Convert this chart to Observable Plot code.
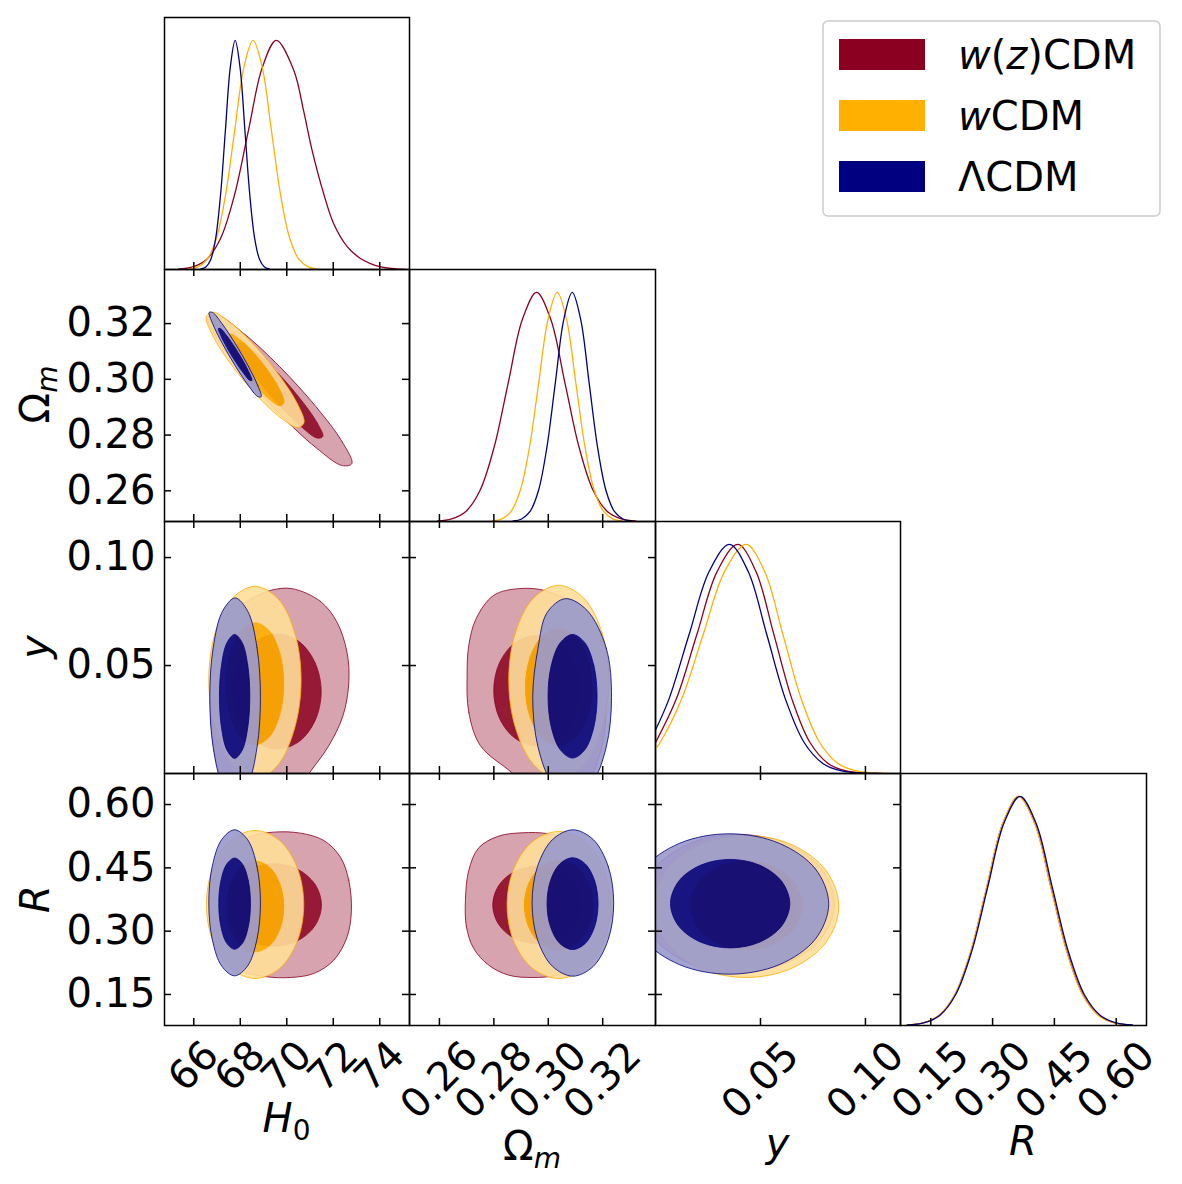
<!DOCTYPE html>
<html>
<head>
<meta charset="utf-8">
<script src="https://cdn.jsdelivr.net/npm/d3@7"></script>
<script src="https://cdn.jsdelivr.net/npm/@observablehq/plot@0.6"></script>
<style>
  html, body { margin: 0; background: #fff; }
  #fig { position: relative; width: 1182px; height: 1184px; font-family: "DejaVu Sans", sans-serif; }
  #fig svg { position: absolute; max-width: none; }
</style>
</head>
<body>
<div id="fig"></div>
<script>
// ---------- models ----------
const MODELS = ["wz", "w", "L"];
const MODEL_NAMES = { wz: ["w", "(", "z", ")CDM"], w: ["w", "CDM"], L: ["ΛCDM"] };
const COLORS = { wz: "#8b0020", w: "#ffb000", L: "#000080" };

// ---------- axes: limits, ticks and tick labels ----------
const H0_DOMAIN = [64.74, 75.28];
const OM_DOMAIN = [0.249, 0.3394];
const Y_DOMAIN = [0, 0.1167];
const R_DOMAIN = [0.0765, 0.6735];
const PDF_DOMAIN = [0, 1.1];

const H0_TICKS = [66, 68, 70, 72, 74];
const H0_LABELS = ["66", "68", "70", "72", "74"];
const OM_TICKS = [0.26, 0.28, 0.30, 0.32];
const OM_LABELS = ["0.26", "0.28", "0.30", "0.32"];
const Y_TICKS = [0.05, 0.10];
const Y_LABELS = ["0.05", "0.10"];
const R_TICKS = [0.15, 0.30, 0.45, 0.60];
const R_LABELS = ["0.15", "0.30", "0.45", "0.60"];

// ---------- 1D marginals [value, normalised density] ----------
const h0_wz = [[65.35,0.0022],[65.95,0.0111],[66.55,0.0439],[67.15,0.1353],[67.75,0.3247],[68.35,0.6065],[68.95,0.8825],[69.55,1],[70.3,0.87],[70.73,0.69],[71.09,0.52],[71.59,0.33],[72.02,0.2],[72.6,0.1],[73.17,0.048],[73.6,0.026],[74.0,0.013],[74.6,0.004],[75.1,0.0005]];
const h0_w = [[65.785,0.0022],[66.18,0.0111],[66.575,0.0439],[66.97,0.1353],[67.365,0.3247],[67.76,0.6065],[68.155,0.8825],[68.55,1],[68.945,0.8825],[69.34,0.6065],[69.735,0.3247],[70.13,0.1353],[70.525,0.0439],[70.92,0.0111],[71.315,0.0022]];
const h0_L = [[66.31,0.0022],[66.52,0.0111],[66.73,0.0439],[66.94,0.1353],[67.15,0.3247],[67.36,0.6065],[67.57,0.8825],[67.78,1],[67.99,0.8825],[68.2,0.6065],[68.41,0.3247],[68.62,0.1353],[68.83,0.0439],[69.04,0.0111],[69.25,0.0022]];

const om_wz = [[0.2593,0.0022],[0.2645,0.0111],[0.2697,0.0439],[0.2749,0.1353],[0.2801,0.3247],[0.2853,0.6065],[0.2905,0.8825],[0.2957,1],[0.3009,0.8825],[0.3061,0.6065],[0.3113,0.3247],[0.3165,0.1353],[0.3217,0.0439],[0.3269,0.0111],[0.3321,0.0022]];
const om_w = [[0.2795,0.0022],[0.2829,0.0111],[0.2863,0.0439],[0.2897,0.1353],[0.2931,0.3247],[0.2965,0.6065],[0.2999,0.8825],[0.3033,1],[0.3067,0.8825],[0.3101,0.6065],[0.3135,0.3247],[0.3169,0.1353],[0.3203,0.0439],[0.3237,0.0111],[0.3271,0.0022]];
const om_L = [[0.2871,0.0022],[0.2902,0.0111],[0.2933,0.0439],[0.2964,0.1353],[0.2995,0.3247],[0.3026,0.6065],[0.3057,0.8825],[0.3088,1],[0.3119,0.8825],[0.3150,0.6065],[0.3181,0.3247],[0.3212,0.1353],[0.3243,0.0439],[0.3274,0.0111],[0.3305,0.0022]];

const y_wz = [[0,0.135],[0.0099,0.3247],[0.0197,0.6065],[0.0294,0.8825],[0.0392,1],[0.0478,0.8825],[0.0564,0.6065],[0.065,0.3247],[0.0736,0.1353],[0.0822,0.0439],[0.0908,0.0111],[0.0994,0.0022],[0.108,0.0003]];
const y_w = [[0,0.108],[0.0022,0.1353],[0.01245,0.3247],[0.0227,0.6065],[0.03295,0.8825],[0.0432,1],[0.05195,0.8825],[0.0607,0.6065],[0.06945,0.3247],[0.0782,0.1353],[0.08695,0.0439],[0.0957,0.0111],[0.10445,0.0022],[0.112,0.0003]];
const y_L = [[0,0.19],[0.0064,0.3247],[0.016,0.6065],[0.0256,0.8825],[0.0352,1],[0.0441,0.8825],[0.053,0.6065],[0.0619,0.3247],[0.0708,0.1353],[0.0797,0.0439],[0.0886,0.0111],[0.0975,0.0022],[0.106,0.0003]];

const r_wz = [[0.0928,0.0022],[0.1315,0.0111],[0.1703,0.0439],[0.209,0.1353],[0.2478,0.3247],[0.2865,0.6065],[0.3253,0.8825],[0.364,1],[0.4028,0.8825],[0.4415,0.6065],[0.4803,0.3247],[0.519,0.1353],[0.5578,0.0439],[0.5965,0.0111],[0.6353,0.0022]];
const r_w = [[0.092,0.0022],[0.1307,0.0111],[0.1695,0.0439],[0.2082,0.1353],[0.247,0.3247],[0.2857,0.6065],[0.3245,0.8825],[0.3632,1],[0.402,0.8825],[0.4407,0.6065],[0.4795,0.3247],[0.5182,0.1353],[0.557,0.0439],[0.5957,0.0111],[0.6345,0.0022]];
const r_L = [[0.0935,0.0022],[0.1325,0.0111],[0.1715,0.0439],[0.2105,0.1353],[0.2495,0.3247],[0.2885,0.6065],[0.3275,0.8825],[0.3665,1],[0.4055,0.8825],[0.4445,0.6065],[0.4835,0.3247],[0.5225,0.1353],[0.5615,0.0439],[0.6005,0.0111],[0.6395,0.0022]];

// ---------- 2D contours (95% and 68% outlines) ----------
// H0 – Omega_m
const h0Om_wz95 = [[72.8,0.2698],[72.385,0.27756],[71.25,0.29026],[69.7,0.3045],[68.15,0.31646],[67.015,0.32294],[66.6,0.3222],[67.015,0.31444],[68.15,0.30174],[69.7,0.2875],[71.25,0.27554],[72.385,0.26906]];
const h0Om_wz68 = [[71.55,0.2795],[71.302,0.28446],[70.625,0.29251],[69.7,0.3015],[68.775,0.30901],[68.098,0.31304],[67.85,0.3125],[68.098,0.30754],[68.775,0.29949],[69.7,0.2905],[70.625,0.28299],[71.302,0.27896]];
const h0Om_w95 = [[70.74,0.2844],[70.459,0.2912],[69.69,0.30126],[68.64,0.3119],[67.59,0.32026],[66.821,0.3241],[66.54,0.3224],[66.821,0.3156],[67.59,0.30554],[68.64,0.2949],[69.69,0.28654],[70.459,0.2827]];
const h0Om_w68 = [[69.88,0.2917],[69.714,0.29602],[69.26,0.30231],[68.64,0.3089],[68.02,0.31401],[67.566,0.31628],[67.40,0.3151],[67.566,0.31078],[68.02,0.30449],[68.64,0.2979],[69.26,0.29279],[69.714,0.29052]];
const h0Om_L95 = [[68.90,0.2938],[68.75,0.29782],[68.34,0.30481],[67.78,0.3129],[67.22,0.31991],[66.81,0.32398],[66.66,0.3240],[66.81,0.31998],[67.22,0.31299],[67.78,0.3049],[68.34,0.29789],[68.75,0.29382]];
const h0Om_L68 = [[68.50,0.2996],[68.40,0.30205],[68.14,0.30633],[67.78,0.3113],[67.42,0.31563],[67.16,0.31815],[67.06,0.3182],[67.16,0.31575],[67.42,0.31147],[67.78,0.3065],[68.14,0.30217],[68.40,0.29965]];

// H0 – y
const h0Y_wz95 = [[70.23,0.0856],[71.45,0.0797],[72.16,0.0701],[72.59,0.0562],[72.67,0.0423],[72.42,0.0268],[71.81,0.0129],[71.09,0.0020],[70.30,-0.0088],[68.9,-0.016],[67.6,-0.012],[67.05,0.002],[66.78,0.0191],[66.72,0.0423],[66.93,0.0608],[67.58,0.0732],[68.44,0.0807],[69.30,0.0848]];
const h0Y_wz68 = [[71.48,0.0379],[71.22,0.0512],[70.54,0.0610],[69.60,0.0646],[68.66,0.0610],[67.97,0.0512],[67.72,0.0379],[67.97,0.0246],[68.66,0.0149],[69.60,0.0113],[70.54,0.0149],[71.22,0.0246]];
const h0Y_w95 = [[70.616,0.0432],[70.351,0.0649],[69.624,0.0809],[68.631,0.0867],[67.637,0.0809],[66.912,0.0649],[66.645,0.0432],[66.912,0.0215],[67.637,0.0040],[68.631,-0.0030],[69.624,0.0040],[70.351,0.0215]];
const h0Y_w68 = [[69.871,0.0415],[69.705,0.0557],[69.252,0.0660],[68.631,0.0698],[68.010,0.0660],[67.558,0.0557],[67.391,0.0415],[67.558,0.0273],[68.010,0.0170],[68.631,0.0132],[69.252,0.0170],[69.705,0.0273]];
const h0Y_L95 = [[68.867,0.0352],[68.721,0.0582],[68.323,0.0751],[67.778,0.0813],[67.233,0.0751],[66.834,0.0582],[66.688,0.0352],[66.834,0.0121],[67.233,-0.0048],[67.778,-0.0110],[68.323,-0.0048],[68.721,0.0121]];
const h0Y_L68 = [[68.409,0.0357],[68.321,0.0501],[68.082,0.0606],[67.756,0.0644],[67.430,0.0606],[67.191,0.0501],[67.104,0.0357],[67.191,0.0213],[67.430,0.0108],[67.756,0.0070],[68.082,0.0108],[68.321,0.0213]];

// Omega_m – y
const omY_wz95 = [[0.27016,0.04537],[0.27078,0.02835],[0.27506,0.01288],[0.2865,0.00050],[0.2950,-0.00900],[0.30383,-0.01189],[0.31424,-0.00415],[0.31975,0.01288],[0.32134,0.03299],[0.32036,0.05156],[0.31608,0.06704],[0.30812,0.07911],[0.29894,0.08468],[0.28914,0.08561],[0.27996,0.08251],[0.27347,0.07168],[0.27078,0.05930]];
const omY_wz68 = [[0.31145,0.03841],[0.30934,0.05118],[0.30358,0.06052],[0.29570,0.06394],[0.28783,0.06052],[0.28206,0.05118],[0.27996,0.03841],[0.28206,0.02564],[0.28783,0.01630],[0.29570,0.01288],[0.30358,0.01630],[0.30934,0.02564]];
const omY_w95 = [[0.32220,0.04321],[0.31974,0.06518],[0.31302,0.08127],[0.30384,0.08716],[0.29465,0.08127],[0.28793,0.06518],[0.28547,0.04321],[0.28793,0.02123],[0.29465,0.00414],[0.30384,-0.00300],[0.31302,0.00414],[0.31974,0.02123]];
const omY_w68 = [[0.31608,0.03996],[0.31444,0.05350],[0.30996,0.06342],[0.30384,0.06704],[0.29771,0.06342],[0.29323,0.05350],[0.29159,0.03996],[0.29323,0.02642],[0.29771,0.01650],[0.30384,0.01288],[0.30996,0.01650],[0.31444,0.02642]];
const omY_L95 = [[0.32324,0.03516],[0.32130,0.05806],[0.31424,0.07555],[0.30628,0.08097],[0.29955,0.07447],[0.29623,0.05806],[0.29428,0.03516],[0.29623,0.01226],[0.30155,-0.00451],[0.30879,-0.01060],[0.31599,-0.00451],[0.32130,0.01226]];
const omY_L68 = [[0.31792,0.03578],[0.31672,0.05009],[0.31342,0.06057],[0.30892,0.06441],[0.30442,0.06057],[0.30112,0.05009],[0.29992,0.03578],[0.30112,0.02146],[0.30442,0.01099],[0.30892,0.00715],[0.31342,0.01099],[0.31672,0.02146]];

// H0 – R
const h0R_wz95 = [[72.781,0.34941],[72.667,0.42033],[72.308,0.47549],[71.591,0.51489],[70.588,0.53223],[69.441,0.53459],[68.437,0.52435],[67.505,0.49519],[66.932,0.44397],[66.688,0.36517],[66.789,0.29425],[67.290,0.23908],[68.151,0.20362],[69.154,0.19180],[70.158,0.19023],[71.161,0.19968],[72.022,0.23121],[72.595,0.28637]];
const h0R_wz68 = [[71.491,0.36202],[71.216,0.41087],[70.466,0.44665],[69.441,0.45973],[68.416,0.44665],[67.666,0.41087],[67.391,0.36202],[67.666,0.31316],[68.416,0.27738],[69.441,0.26430],[70.466,0.27738],[71.216,0.31316]];
const h0R_w95 = [[70.731,0.36320],[70.450,0.45043],[69.685,0.51505],[68.638,0.53853],[67.591,0.51505],[66.826,0.45043],[66.545,0.36320],[66.826,0.27597],[67.591,0.21135],[68.638,0.18787],[69.685,0.21135],[70.450,0.27597]];
const h0R_w68 = [[69.871,0.35847],[69.706,0.41225],[69.254,0.45162],[68.638,0.46604],[68.022,0.45162],[67.570,0.41225],[67.405,0.35847],[67.570,0.30469],[68.022,0.26533],[68.638,0.25091],[69.254,0.26533],[69.706,0.30469]];
const h0R_L95 = [[68.867,0.36714],[68.718,0.45362],[68.312,0.51694],[67.756,0.54011],[67.201,0.51694],[66.794,0.45362],[66.645,0.36714],[66.794,0.28065],[67.201,0.21734],[67.756,0.19417],[68.312,0.21734],[68.718,0.28065]];
const h0R_L68 = [[68.437,0.36517],[68.346,0.41915],[68.097,0.45867],[67.756,0.47313],[67.416,0.45867],[67.167,0.41915],[67.075,0.36517],[67.167,0.31119],[67.416,0.27167],[67.756,0.25721],[68.097,0.27167],[68.346,0.31119]];

// Omega_m – R
const omR_wz95 = [[0.26955,0.37305],[0.26992,0.31001],[0.27261,0.25879],[0.27812,0.21939],[0.28547,0.19574],[0.29404,0.19023],[0.30383,0.19574],[0.31241,0.21544],[0.31914,0.26272],[0.32220,0.33365],[0.32159,0.40457],[0.31730,0.46761],[0.30996,0.51095],[0.30016,0.53066],[0.29037,0.53302],[0.28179,0.52514],[0.27445,0.49756],[0.27078,0.44397]];
const omR_wz68 = [[0.31182,0.36202],[0.30966,0.40772],[0.30376,0.44121],[0.29570,0.45343],[0.28765,0.44121],[0.28175,0.40772],[0.27959,0.36202],[0.28175,0.31631],[0.28765,0.28282],[0.29570,0.27061],[0.30376,0.28282],[0.30966,0.31631]];
const omR_w95 = [[0.32281,0.36202],[0.32027,0.44909],[0.31332,0.51285],[0.30384,0.53617],[0.29435,0.51285],[0.28740,0.44909],[0.28486,0.36202],[0.28740,0.27494],[0.29435,0.21119],[0.30384,0.18787],[0.31332,0.21119],[0.32027,0.27494]];
const omR_w68 = [[0.31645,0.36123],[0.31476,0.41442],[0.31014,0.45335],[0.30384,0.46761],[0.29753,0.45335],[0.29291,0.41442],[0.29122,0.36123],[0.29291,0.30804],[0.29753,0.26911],[0.30384,0.25485],[0.31014,0.26911],[0.31476,0.30804]];
const omR_L95 = [[0.32404,0.36675],[0.32203,0.45343],[0.31654,0.51686],[0.30904,0.54011],[0.30154,0.51686],[0.29605,0.45343],[0.29404,0.36675],[0.29605,0.28006],[0.30154,0.21663],[0.30904,0.19338],[0.31654,0.21663],[0.32203,0.28006]];
const omR_L68 = [[0.31828,0.36517],[0.31703,0.41954],[0.31360,0.45934],[0.30892,0.47392],[0.30423,0.45934],[0.30080,0.41954],[0.29955,0.36517],[0.30080,0.31080],[0.30423,0.27100],[0.30892,0.25642],[0.31360,0.27100],[0.31703,0.31080]];

// y – R
const yR_wz95 = [[0.08524,0.36556],[0.07906,0.44732],[0.06222,0.50717],[0.03921,0.52908],[0.01619,0.50717],[-0.00065,0.44732],[-0.00683,0.36556],[-0.00065,0.28380],[0.01619,0.22395],[0.03921,0.20205],[0.06222,0.22395],[0.07906,0.28380]];
const yR_wz68 = [[0.06778,0.36517],[0.06395,0.41639],[0.05349,0.45390],[0.03921,0.46761],[0.02492,0.45390],[0.01446,0.41639],[0.01063,0.36517],[0.01446,0.31395],[0.02492,0.27644],[0.03921,0.26273],[0.05349,0.27644],[0.06395,0.31395]];
const yR_w95 = [[0.08730,0.35847],[0.08138,0.44259],[0.06524,0.50418],[0.04317,0.52671],[0.02111,0.50418],[0.00497,0.44259],[-0.00095,0.35847],[0.00497,0.27435],[0.02111,0.21277],[0.04317,0.19023],[0.06524,0.21277],[0.08138,0.27435]];
const yR_w68 = [[0.06984,0.36123],[0.06627,0.41363],[0.05651,0.45201],[0.04317,0.46604],[0.02984,0.45201],[0.02008,0.41363],[0.01651,0.36123],[0.02008,0.30883],[0.02984,0.27045],[0.04317,0.25642],[0.05651,0.27045],[0.06627,0.30883]];
const yR_L95 = [[0.08251,0.36438],[0.07617,0.44752],[0.05886,0.50835],[0.03521,0.53066],[0.01156,0.50835],[-0.00576,0.44752],[-0.01210,0.36438],[-0.00576,0.28125],[0.01156,0.22041],[0.03521,0.19811],[0.05886,0.22041],[0.07617,0.28125]];
const yR_L68 = [[0.06397,0.36517],[0.06016,0.41757],[0.04976,0.45595],[0.03556,0.46998],[0.02135,0.45595],[0.01095,0.41757],[0.00714,0.36517],[0.01095,0.31277],[0.02135,0.27439],[0.03556,0.26036],[0.04976,0.27439],[0.06016,0.31277]];

// ---------- lookup tables built from the arrays above ----------
const AXES = {
  H0: { domain: H0_DOMAIN, ticks: H0_TICKS, labels: H0_LABELS, labelDy: 41 },
  Om: { domain: OM_DOMAIN, ticks: OM_TICKS, labels: OM_LABELS, labelDy: 55 },
  y:  { domain: Y_DOMAIN,  ticks: Y_TICKS,  labels: Y_LABELS,  labelDy: 55 },
  R:  { domain: R_DOMAIN,  ticks: R_TICKS,  labels: R_LABELS,  labelDy: 55 }
};
const ORDER = ["H0", "Om", "y", "R"];
const MARGINALS = {
  H0: { wz: h0_wz, w: h0_w, L: h0_L },
  Om: { wz: om_wz, w: om_w, L: om_L },
  y:  { wz: y_wz,  w: y_w,  L: y_L },
  R:  { wz: r_wz,  w: r_w,  L: r_L }
};
const CONTOURS = {
  "H0|Om": { wz: [h0Om_wz95, h0Om_wz68], w: [h0Om_w95, h0Om_w68], L: [h0Om_L95, h0Om_L68] },
  "H0|y":  { wz: [h0Y_wz95, h0Y_wz68],   w: [h0Y_w95, h0Y_w68],   L: [h0Y_L95, h0Y_L68] },
  "Om|y":  { wz: [omY_wz95, omY_wz68],   w: [omY_w95, omY_w68],   L: [omY_L95, omY_L68] },
  "H0|R":  { wz: [h0R_wz95, h0R_wz68],   w: [h0R_w95, h0R_w68],   L: [h0R_L95, h0R_L68] },
  "Om|R":  { wz: [omR_wz95, omR_wz68],   w: [omR_w95, omR_w68],   L: [omR_L95, omR_L68] },
  "y|R":   { wz: [yR_wz95, yR_wz68],     w: [yR_w95, yR_w68],     L: [yR_L95, yR_L68] }
};

// ---------- layout / style ----------
const COL_LEFT = [164, 409, 655, 900];
const COL_WIDTH = [245, 246, 245, 246];
const ROW_TOP = [17, 269, 521, 773];
const ROW_HEIGHT = 252;
const TICK = 7;
const FONT = 40;
const ALPHA = 0.9;
const pale = c => d3.color(d3.interpolateRgb(c, "#ffffff")(0.6)).formatHex();

const fig = document.getElementById("fig");

function contourMarks(pts95, pts68, k) {
  const base = { x: d => d[0], y: d => d[1], curve: "catmull-rom-closed", clip: true,
                 stroke: COLORS[k], strokeWidth: 0.9, strokeOpacity: ALPHA };
  return [
    Plot.line(pts95, { ...base, fill: pale(COLORS[k]), fillOpacity: ALPHA }),
    Plot.line(pts68, { ...base, fill: COLORS[k], fillOpacity: ALPHA })
  ];
}

// the 95% fill is a ring: the 68% region is cut out of it.
// contour paths come first in each panel, in the order 95/68 per model.
function makeRings(svg) {
  const paths = svg.querySelectorAll("path");
  for (let i = 0; i + 1 < Math.min(paths.length, 6); i += 2) {
    const outer = paths[i], inner = paths[i + 1];
    outer.setAttribute("d", outer.getAttribute("d") + inner.getAttribute("d"));
    outer.setAttribute("fill-rule", "evenodd");
    inner.setAttribute("stroke", "none");
  }
}

function frameAndTicks(xa, ya, w, h, diag) {
  const st = { stroke: "black", strokeWidth: 1.5 };
  const m = [Plot.tickX(xa.ticks, { x: d => d, insetTop: h - TICK, ...st })];
  if (!diag) {
    m.push(Plot.tickX(xa.ticks, { x: d => d, insetBottom: h - TICK, ...st }));
    m.push(Plot.tickY(ya.ticks, { y: d => d, insetRight: w - TICK, ...st }));
    m.push(Plot.tickY(ya.ticks, { y: d => d, insetLeft: w - TICK, ...st }));
  }
  m.push(Plot.frame({ stroke: "black", strokeWidth: 1.5 }));
  return m;
}

for (let r = 0; r < 4; r++) {
  for (let c = 0; c <= r; c++) {
    const diag = r === c;
    const xa = AXES[ORDER[c]];
    const ya = diag ? null : AXES[ORDER[r]];
    const w = COL_WIDTH[c], h = ROW_HEIGHT;
    const marks = [];
    if (diag) {
      for (const k of MODELS) {
        marks.push(Plot.line(MARGINALS[ORDER[c]][k], { x: d => d[0], y: d => d[1], stroke: COLORS[k], strokeWidth: 1.3, curve: "catmull-rom", clip: true }));
      }
    } else {
      const set = CONTOURS[`${ORDER[c]}|${ORDER[r]}`];
      for (const k of MODELS) marks.push(...contourMarks(set[k][0], set[k][1], k));
    }
    marks.push(...frameAndTicks(xa, ya, w, h, diag));
    if (c === 0 && !diag) {
      marks.push(Plot.text(ya.ticks, { y: d => d, text: (d, i) => ya.labels[i], frameAnchor: "left", textAnchor: "end", lineAnchor: "middle", dx: -9, fontSize: FONT, fill: "black" }));
    }
    if (r === 3) {
      marks.push(Plot.text(xa.ticks, { x: d => d, text: (d, i) => xa.labels[i], frameAnchor: "bottom", rotate: -45, textAnchor: "middle", lineAnchor: "middle", dy: xa.labelDy, fontSize: FONT, fill: "black" }));
    }
    const svg = Plot.plot({
      width: w, height: h,
      marginTop: 0, marginRight: 0, marginBottom: 0, marginLeft: 0,
      x: { domain: xa.domain, axis: null },
      y: { domain: diag ? PDF_DOMAIN : ya.domain, axis: null },
      style: { background: "transparent", overflow: "visible", fontFamily: "DejaVu Sans", color: "black" },
      marks
    });
    svg.style.left = COL_LEFT[c] + "px";
    svg.style.top = ROW_TOP[r] + "px";
    svg.style.overflow = "visible";
    if (!diag) makeRings(svg);
    fig.appendChild(svg);
  }
}

// ---------- axis titles and legend ----------
const over = d3.select(fig).append("svg")
  .attr("width", 1182).attr("height", 1184)
  .style("left", "0px").style("top", "0px").style("pointer-events", "none")
  .style("font-family", "DejaVu Sans");

// each part: [text, italic, subscript]
const X_TITLES = [
  { x: 286.5, y: 1132, parts: [["H", true], ["0", false, true]] },
  { x: 532, y: 1160, parts: [["Ω", false], ["m", true, true]] },
  { x: 777.5, y: 1157, parts: [["y", true]] },
  { x: 1023, y: 1155, parts: [["R", true]] }
];
const Y_TITLES = [
  { x: 49, y: 394.5, parts: [["Ω", false], ["m", true, true]] },
  { x: 49, y: 647, parts: [["y", true]] },
  { x: 49, y: 899, parts: [["R", true]] }
];
function title(t, rotate) {
  const txt = over.append("text")
    .attr("text-anchor", "middle").attr("font-size", FONT).attr("fill", "black")
    .attr("transform", `translate(${t.x},${t.y})` + (rotate ? " rotate(-90)" : ""));
  for (const [s, ital, sub] of t.parts) {
    const sp = txt.append("tspan").text(s).attr("font-style", ital ? "italic" : "normal");
    if (sub) sp.attr("font-size", 28).attr("dy", 8);
  }
}
X_TITLES.forEach(t => title(t, false));
Y_TITLES.forEach(t => title(t, true));

const leg = over.append("g");
leg.append("rect").attr("x", 823).attr("y", 21).attr("width", 337).attr("height", 195).attr("rx", 5)
  .attr("fill", "white").attr("fill-opacity", 0.8).attr("stroke", "#cccccc").attr("stroke-width", 1.5);
MODELS.forEach((k, i) => {
  leg.append("rect").attr("x", 839).attr("y", 39 + i * 61).attr("width", 86).attr("height", 31).attr("fill", COLORS[k]);
  const t = leg.append("text").attr("x", 958).attr("y", 69 + i * 61).attr("font-size", FONT).attr("fill", "black");
  MODEL_NAMES[k].forEach(s => t.append("tspan").text(s).attr("font-style", (s === "w" || s === "z") ? "italic" : "normal"));
});
</script>
</body>
</html>
